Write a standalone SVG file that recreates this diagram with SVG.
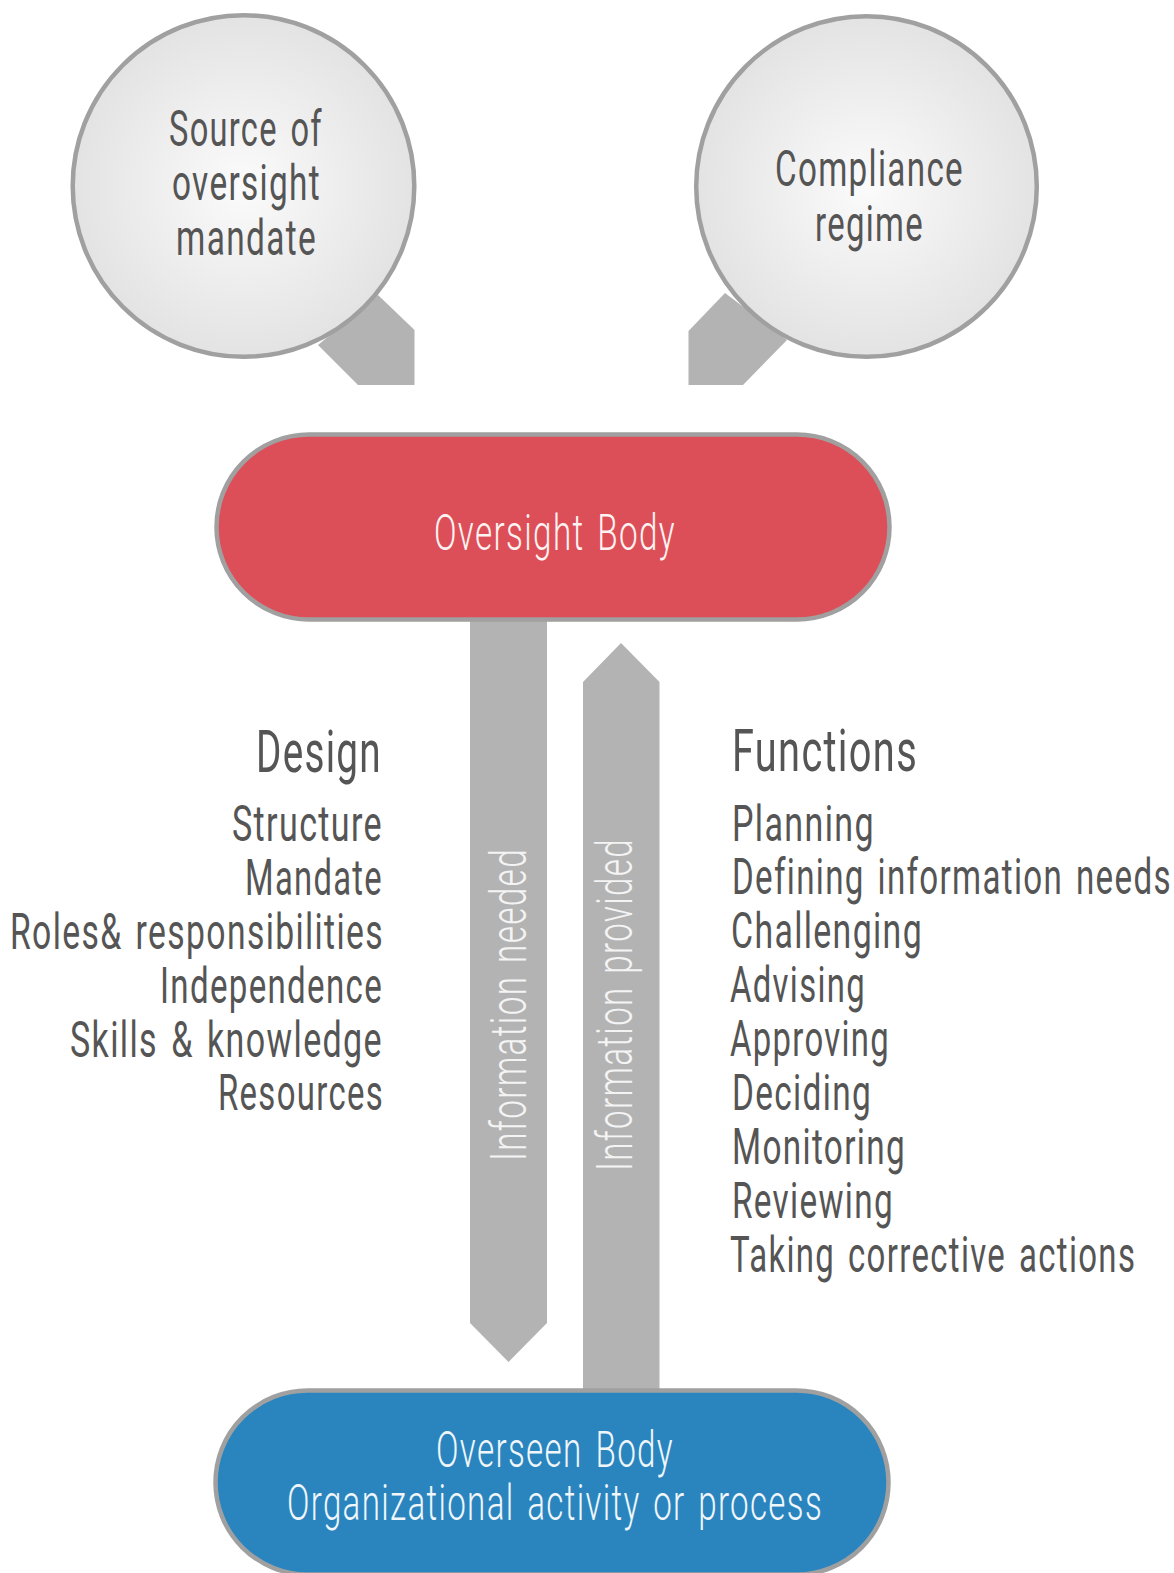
<svg xmlns="http://www.w3.org/2000/svg" width="1174" height="1573" viewBox="0 0 1174 1573">
<style>
text{font-family:"Roboto","Liberation Sans",sans-serif;font-size:50px;font-weight:400;fill:#555;letter-spacing:2px;word-spacing:5px}
.h{font-size:60px}
.w{fill:#fdf3f3;font-weight:300}
.b{fill:#f0f6fa}
.v{fill:#f4f4f4;font-weight:300;font-size:50px}
.c{fill:url(#g);stroke:#a0a0a0;stroke-width:4.5}
.p{stroke:#a0a0a0;stroke-width:4.5}
.a{fill:#b3b3b3}
</style>
<defs><radialGradient id="g"><stop offset="0" stop-color="#fbfbfb"/><stop offset="1" stop-color="#e3e3e3"/></radialGradient></defs>
<rect width="1174" height="1573" fill="#fff"/>
<g id="connectors">
<path class="a" d="M378 295L414.500 330V385H358L318 345Z"/>
<path class="a" d="M688.500 331L725 293L787 340L743 385H688.500Z"/>
<path class="a" d="M470 618H547V1323L508.500 1362L470 1323Z"/>
<path class="a" d="M621 643L659.500 682V1392H583V682Z"/>
<text class="v" transform="translate(526 1161) rotate(-90)" textLength="313" lengthAdjust="spacingAndGlyphs">Information needed</text>
<text class="v" transform="translate(632 1171) rotate(-90)" textLength="333" lengthAdjust="spacingAndGlyphs">Information provided</text>
</g>
<g id="source">
<circle class="c" cx="243.500" cy="186" r="170.800"/>
<text x="169" y="146" textLength="154" lengthAdjust="spacingAndGlyphs">Source of</text>
<text x="172" y="200" textLength="149" lengthAdjust="spacingAndGlyphs">oversight</text>
<text x="176" y="255" textLength="141" lengthAdjust="spacingAndGlyphs">mandate</text>
</g>
<g id="compliance">
<circle class="c" cx="866.500" cy="186.500" r="170.300"/>
<text x="775" y="186" textLength="189" lengthAdjust="spacingAndGlyphs">Compliance</text>
<text x="815" y="241" textLength="109" lengthAdjust="spacingAndGlyphs">regime</text>
</g>
<g id="oversight-body">
<rect class="p" x="216.500" y="434.500" width="673" height="185" rx="92.500" fill="#dd4f58"/>
<text class="w" x="434" y="550" textLength="242" lengthAdjust="spacingAndGlyphs">Oversight Body</text>
</g>
<g id="overseen-body">
<rect class="p" x="215.500" y="1390.500" width="673" height="184" rx="92" fill="#2a85bf"/>
<text class="w b" x="436" y="1467" textLength="238" lengthAdjust="spacingAndGlyphs">Overseen Body</text>
<text class="w b" x="287" y="1520" textLength="536" lengthAdjust="spacingAndGlyphs">Organizational activity or process</text>
</g>
<g id="design">
<text class="h" x="256" y="772" textLength="126" lengthAdjust="spacingAndGlyphs">Design</text>
<text x="232" y="841" textLength="151" lengthAdjust="spacingAndGlyphs">Structure</text>
<text x="245" y="895" textLength="138" lengthAdjust="spacingAndGlyphs">Mandate</text>
<text x="10" y="949" textLength="374" lengthAdjust="spacingAndGlyphs">Roles&amp; responsibilities</text>
<text x="160" y="1003" textLength="223" lengthAdjust="spacingAndGlyphs">Independence</text>
<text x="70" y="1057" textLength="313" lengthAdjust="spacingAndGlyphs">Skills &amp; knowledge</text>
<text x="218" y="1110" textLength="166" lengthAdjust="spacingAndGlyphs">Resources</text>
</g>
<g id="functions">
<text class="h" x="732" y="771" textLength="186" lengthAdjust="spacingAndGlyphs">Functions</text>
<text x="732" y="841" textLength="143" lengthAdjust="spacingAndGlyphs">Planning</text>
<text transform="translate(732 894) scale(.6 1)" textLength="733" lengthAdjust="spacingAndGlyphs">Defining information needs</text>
<text x="731" y="948" textLength="192" lengthAdjust="spacingAndGlyphs">Challenging</text>
<text x="730" y="1002" textLength="136" lengthAdjust="spacingAndGlyphs">Advising</text>
<text x="730" y="1056" textLength="160" lengthAdjust="spacingAndGlyphs">Approving</text>
<text x="732" y="1110" textLength="140" lengthAdjust="spacingAndGlyphs">Deciding</text>
<text x="732" y="1164" textLength="174" lengthAdjust="spacingAndGlyphs">Monitoring</text>
<text x="732" y="1218" textLength="162" lengthAdjust="spacingAndGlyphs">Reviewing</text>
<text transform="translate(730 1272) scale(.65 1)" textLength="625" lengthAdjust="spacingAndGlyphs">Taking corrective actions</text>
</g>
</svg>
